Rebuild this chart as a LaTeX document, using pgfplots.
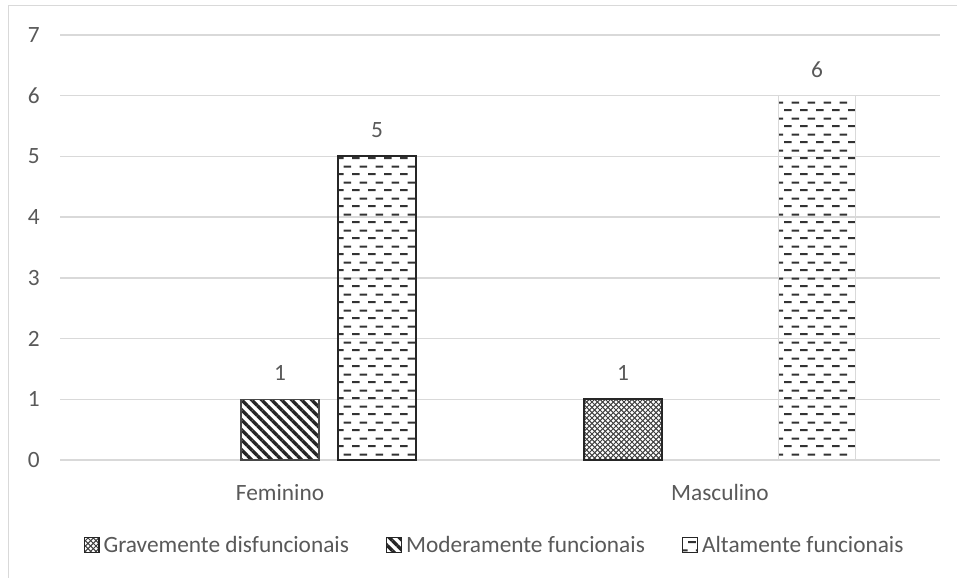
\documentclass[border=0pt]{standalone}
\usepackage{fontspec}
\setmainfont{Carlito}
\usepackage{pgfplots}
\pgfplotsset{compat=1.18}
\usetikzlibrary{patterns,patterns.meta}

\definecolor{txtgray}{HTML}{595959}
\definecolor{gridgray}{HTML}{D9D9D9}
\definecolor{barline}{HTML}{262626}

% staggered horizontal dashes
\pgfdeclarepattern{
  name=hdashes,
  type=uncolored,
  bottom left={\pgfpoint{0pt}{0pt}},
  top right={\pgfpoint{12pt}{12pt}},
  tile size={\pgfpoint{12pt}{12pt}},
  code={
    \pgfsetlinewidth{1.6pt}
    \pgfpathmoveto{\pgfpoint{0pt}{3pt}}\pgfpathlineto{\pgfpoint{6pt}{3pt}}
    \pgfpathmoveto{\pgfpoint{6pt}{9pt}}\pgfpathlineto{\pgfpoint{12pt}{9pt}}
    \pgfusepath{stroke}
  }
}
% fine diagonal mesh
\pgfdeclarepattern{
  name=finemesh,
  type=uncolored,
  bottom left={\pgfpoint{-0.5pt}{-0.5pt}},
  top right={\pgfpoint{4.5pt}{4.5pt}},
  tile size={\pgfpoint{4pt}{4pt}},
  code={
    \pgfsetlinewidth{0.75pt}
    \pgfpathmoveto{\pgfpoint{0pt}{0pt}}\pgfpathlineto{\pgfpoint{4pt}{4pt}}
    \pgfpathmoveto{\pgfpoint{0pt}{4pt}}\pgfpathlineto{\pgfpoint{4pt}{0pt}}
    \pgfusepath{stroke}
  }
}

\begin{document}
\begin{tikzpicture}
\useasboundingbox (-45pt,-88.5pt) rectangle (672.75pt,345pt);
% chart area frame
\draw[gridgray, line width=1.2pt] (-38.6pt,-88.5pt) -- (-38.6pt,340.9pt) -- (672.75pt,340.9pt);
\begin{axis}[
  at={(0pt,0pt)}, anchor=south west,
  scale only axis,
  width=660pt, height=318.75pt,
  xmin=-0.5, xmax=1.5,
  ymin=0, ymax=7,
  xtick={0,1},
  xticklabels={Feminino,Masculino},
  ytick={0,1,2,3,4,5,6,7},
  ymajorgrids,
  grid style={gridgray, line width=1pt},
  axis line style={draw=none},
  major tick length=0pt,
  tick style={draw=none},
  /pgf/number format/assume math mode=true,
  tick label style={font=\fontsize{17.5}{20}\selectfont, text=txtgray},
  yticklabel style={inner sep=0pt, xshift=-15pt},
  xticklabel style={inner sep=0pt, yshift=-18pt},
  bar width=0.177,
  nodes near coords,
  every node near coord/.append style={font=\fontsize{17.5}{20}\selectfont, text=txtgray, inner sep=0pt, anchor=south, yshift=13.5pt},
  legend columns=3,
  legend style={draw=none, at={(0.495,-0.2)}, anchor=center,
    font=\fontsize{17.5}{20}\selectfont, text=txtgray,
    /tikz/every even column/.append style={column sep=25pt},
    nodes={inner xsep=3pt},
    inner sep=0pt},
  legend cell align=left,
  legend image code/.code={\draw[#1, line width=0.9pt, draw=barline] (0pt,-5.5pt) rectangle (11pt,5.5pt);},
]
% Gravemente disfuncionais
\addplot[ybar, bar shift=-0.2205, draw=barline, line width=1.4pt,
  pattern=finemesh, pattern color=black!75,
  every node near coord/.append style={xshift=-72.77pt}]
  coordinates {(1,1)};
% Moderamente funcionais
\addplot[ybar, bar shift=0, draw=barline!85, line width=0.9pt,
  pattern={Lines[angle=-45,distance=5.3pt,line width=2.5pt]}, pattern color=black!85]
  coordinates {(0,1)};
% Altamente funcionais
\addplot[ybar, bar shift=0.2205, draw=barline, line width=1.4pt,
  pattern=hdashes, pattern color=black!80,
  every node near coord/.append style={xshift=72.77pt}]
  coordinates {(0,5)};
\addplot[ybar, bar shift=0.2205, draw=gridgray, line width=0.8pt,
  pattern=hdashes, pattern color=black!80, forget plot,
  every node near coord/.append style={xshift=72.77pt}]
  coordinates {(1,6)};
\legend{Gravemente disfuncionais,Moderamente funcionais,Altamente funcionais}
\end{axis}
\end{tikzpicture}
\end{document}
